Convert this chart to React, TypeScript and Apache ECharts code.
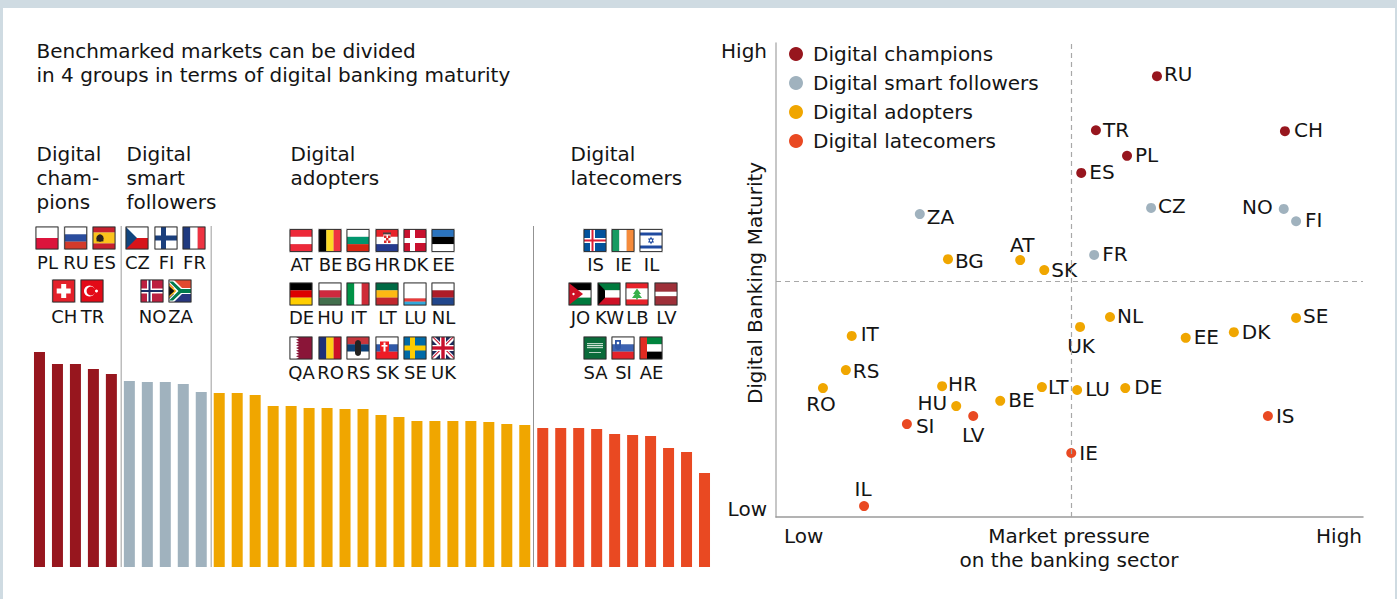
import React, { useEffect, useRef } from "react";
import * as echarts from "echarts";

const FONT = "DejaVu Sans";
const INK = "#141414";
const RED = "#97161e";
const GREY = "#a0b2be";
const AMBER = "#f0a600";
const ORANGE = "#e94922";

const barCodes = ["PL","RU","ES","CH","TR","CZ","FI","FR","NO","ZA","AT","BE","BG","HR","DK","EE","DE","HU","IT","LT","LU","NL","QA","RO","RS","SK","SE","UK","IS","IE","IL","JO","KW","LB","LV","SA","SI","AE"];
const championBars = [215,203,203,198,193];
const followerBars = [186,185,185,183,175];
const adopterBars = [174,174,172,161,161,159,159,158,158,152,150,146,146,146,146,145,143,142];
const latecomerBars = [139,139,139,138,133,132,131,119,115,94];

const champions = [["RU",64.9,93.0],["TR",54.5,81.6],["CH",86.7,81.4],["PL",59.8,76.2],["ES",52.0,72.6]];
const followers = [["CZ",63.9,65.2],["NO",86.5,65.0],["FI",88.6,62.4],["FR",54.2,55.3],["ZA",24.5,63.9]];
const adopters = [["BG",29.3,54.4],["AT",41.6,54.2],["SK",45.7,52.1],["IT",12.9,38.2],["RS",11.9,31.0],["RO",8.0,27.2],["HR",28.3,27.6],["HU",30.7,23.4],["BE",38.2,24.5],["LT",45.3,27.4],["UK",51.8,40.1],["NL",56.9,42.2],["EE",69.8,37.8],["DK",78.0,39.0],["SE",88.6,42.0],["LU",51.3,26.8],["DE",59.5,27.2]];
const latecomers = [["SI",22.3,19.6],["LV",33.6,21.3],["IL",15.0,2.3],["IS",83.8,21.3],["IE",50.3,13.5]];

const labelPlacement: Record<string, [string, number, number]> = {
  RU:["left",7,-2.5],TR:["left",7,-0.5],CH:["left",9,-1.5],PL:["left",8,-0.5],ES:["left",8,-0.5],
  CZ:["left",7,-1.5],NO:["right",-11,-1.5],FI:["left",9,-1.5],FR:["left",8,-0.5],ZA:["left",7,2.5],
  BG:["left",7,1.5],AT:["center",2,-15.5],SK:["left",7,-0.5],IT:["left",9,-1.5],RS:["left",7,0.5],RO:["center",-2,15.5],
  HR:["left",6,-2.5],HU:["right",-9,-3.5],SI:["left",9,2],LV:["center",0,18.5],BE:["left",8,-0.5],LT:["left",6,-0.5],
  IL:["center",-1,-17.5],UK:["center",1,19.5],NL:["left",7,-0.5],EE:["left",8,-0.5],DK:["left",8,-0.5],SE:["left",7,-1.5],
  LU:["left",8,-0.5],DE:["left",9,-1.5],IS:["left",8,-0.5],IE:["left",8,-0.5],
};

const R = (x: number, y: number, w: number, h: number, fill: string) => ({ type: "rect", shape: { x, y, width: w, height: h }, style: { fill } });
const P = (points: number[][], fill: string) => ({ type: "polygon", shape: { points }, style: { fill } });
const C = (cx: number, cy: number, r: number, fill: string) => ({ type: "circle", shape: { cx, cy, r }, style: { fill } });
const SZ = 22;
const hs = (cols: string[], w?: number[]) => {
  const ws = w || cols.map(() => 1); const tot = ws.reduce((a, b) => a + b, 0); let y = 0;
  return cols.map((c, i) => { const e = R(0, y, SZ, (ws[i] / tot) * SZ, c); y += (ws[i] / tot) * SZ; return e; });
};
const vs = (cols: string[], w?: number[]) => {
  const ws = w || cols.map(() => 1); const tot = ws.reduce((a, b) => a + b, 0); let x = 0;
  return cols.map((c, i) => { const e = R(x, 0, (ws[i] / tot) * SZ, SZ, c); x += (ws[i] / tot) * SZ; return e; });
};
const nordic = (bg: string, cross: string, inner?: string) => {
  const out: any[] = [R(0, 0, SZ, SZ, bg), R(6, 0, 5, SZ, cross), R(0, 8.5, SZ, 5, cross)];
  if (inner) out.push(R(7.5, 0, 2, SZ, inner), R(0, 10, SZ, 2, inner));
  return out;
};
const flagArt: Record<string, () => any[]> = {
  PL: () => hs(["#ffffff", "#dc143c"]),
  RU: () => hs(["#ffffff", "#2a4d9e", "#d33a2a"]),
  ES: () => [...hs(["#c8202d", "#fbc31c", "#c8202d"], [1, 2, 1]), C(7, 11, 3.6, "#2b2320"), R(3.6, 11, 6.8, 3.4, "#2b2320")],
  CH: () => [R(0, 0, SZ, SZ, "#e4202a"), R(8.5, 4, 5, 14, "#fff"), R(4, 8.5, 14, 5, "#fff")],
  TR: () => [R(0, 0, SZ, SZ, "#e30a17"), C(8.5, 11, 5.5, "#fff"), C(10, 11, 4.4, "#e30a17"), C(15.5, 11, 1.5, "#fff")],
  CZ: () => [...hs(["#ffffff", "#d7141a"]), P([[0, 0], [11, 11], [0, 22]], "#11457e")],
  FI: () => nordic("#ffffff", "#1b3f7c"),
  FR: () => vs(["#1f3a7f", "#ffffff", "#ee3342"]),
  NO: () => nordic("#bc2040", "#ffffff", "#1d2f66"),
  ZA: () => [...hs(["#e2492f", "#ffffff", "#27367f"], [8, 6, 8]), P([[0, 0], [5, 0], [13, 8], [22, 8], [22, 14], [13, 14], [5, 22], [0, 22], [0, 19], [8, 11], [0, 3]], "#ffffff"), P([[0, 1.5], [4, 1.5], [12, 9], [22, 9], [22, 13], [12, 13], [4, 20.5], [0, 20.5], [9.5, 11]], "#007a4d"), P([[0, 4], [7.5, 11], [0, 18]], "#fbb81c"), P([[0, 6], [5.5, 11], [0, 16]], "#111")],
  AT: () => hs(["#ed2939", "#ffffff", "#ed2939"]),
  BE: () => vs(["#000000", "#fdda24", "#ef3340"]),
  BG: () => hs(["#ffffff", "#00966e", "#d62612"]),
  HR: () => [...hs(["#e8232a", "#ffffff", "#253a8e"]), R(7, 3, 8, 2, "#444"), R(7.5, 5, 7, 9, "#fff"), R(8, 6, 2.5, 2.5, "#d92a2a"), R(12, 6, 2.5, 2.5, "#d92a2a"), R(10, 8.5, 2.5, 2.5, "#d92a2a"), R(8, 11, 2.5, 2.5, "#d92a2a"), R(12, 11, 2.5, 2.5, "#d92a2a")],
  DK: () => nordic("#c8102e", "#ffffff"),
  EE: () => hs(["#2b74bf", "#000000", "#ffffff"]),
  DE: () => hs(["#000000", "#dd0000", "#ffce00"]),
  HU: () => hs(["#ffffff", "#cd2a3e", "#436f4d"]),
  IT: () => vs(["#009246", "#ffffff", "#ce2b37"]),
  LT: () => hs(["#006a44", "#fdb913", "#c1272d"]),
  LU: () => hs(["#ffffff", "#ea3b3b", "#33a9dc"], [7, 1.5, 1.5]),
  NL: () => hs(["#ffffff", "#ae1c28", "#21468b"]),
  QA: () => { const pts: number[][] = [[22, 0], [6, 0]]; for (let i = 0; i < 8; i++) { pts.push([9, i * 2.75 + 1.4], [6, (i + 1) * 2.75]); } pts.push([22, 22]); return [R(0, 0, SZ, SZ, "#fff"), P(pts, "#8a1538")]; },
  RO: () => vs(["#1c2f78", "#fcd116", "#ce1126"]),
  RS: () => [...hs(["#c6363c", "#0c4076", "#ffffff"]), C(11, 6, 3, "#222"), R(8, 6, 6, 10, "#222"), C(11, 16, 3, "#222")],
  SK: () => [...hs(["#ffffff", "#2f59a8", "#ee1c25"]), R(4, 4.5, 9, 8, "#ee1c25"), C(8.5, 12.5, 4.5, "#ee1c25"), R(7.5, 5.5, 2, 9, "#fff"), R(5.5, 8, 6, 1.6, "#fff")],
  SE: () => nordic("#006aa7", "#fecc00"),
  UK: () => [R(0, 0, SZ, SZ, "#1d2a5b"), P([[0, 0], [3, 0], [22, 19], [22, 22], [19, 22], [0, 3]], "#fff"), P([[22, 0], [22, 3], [3, 22], [0, 22], [0, 19], [19, 0]], "#fff"), P([[0, 0], [1.5, 0], [22, 20.5], [22, 22]], "#c8102e"), P([[22, 0], [20.5, 0], [0, 20.5], [0, 22]], "#c8102e"), R(8, 0, 6, SZ, "#fff"), R(0, 8, SZ, 6, "#fff"), R(9.3, 0, 3.4, SZ, "#c8102e"), R(0, 9.3, SZ, 3.4, "#c8102e")],
  IS: () => nordic("#02529c", "#ffffff", "#dc1e35"),
  IE: () => vs(["#169b62", "#ffffff", "#f58b3c"]),
  IL: () => [R(0, 0, SZ, SZ, "#fff"), R(0, 3, SZ, 3, "#1f4aa0"), R(0, 16, SZ, 3, "#1f4aa0"), P([[11, 7], [14, 13], [8, 13]], "#1f4aa0"), P([[11, 15], [14, 9], [8, 9]], "#1f4aa0"), C(11, 11, 1.2, "#fff")],
  JO: () => [...hs(["#000000", "#ffffff", "#007a3d"]), P([[0, 0], [14, 11], [0, 22]], "#ce1126"), C(4.5, 11, 1.2, "#fff")],
  KW: () => [...hs(["#007a3d", "#ffffff", "#ce1126"]), P([[0, 0], [7, 7.3], [7, 14.7], [0, 22]], "#000")],
  LB: () => [...hs(["#e8232a", "#ffffff", "#e8232a"], [1, 2, 1]), P([[11, 5.5], [15, 11], [13, 11], [16, 15], [6, 15], [9, 11], [7, 11]], "#38b04a"), R(10.2, 15, 1.6, 1.6, "#38b04a")],
  LV: () => hs(["#9e3039", "#ffffff", "#9e3039"], [2, 1, 2]),
  SA: () => [R(0, 0, SZ, SZ, "#0a6b3a"), R(3, 6, 16, 1.2, "#b9d6c4"), R(3, 8, 16, 1.2, "#d5e6da"), R(3, 10, 16, 1.2, "#b9d6c4"), R(5, 15, 12, 0.8, "#e6efe8")],
  SI: () => [...hs(["#ffffff", "#3d63b3", "#e4232a"]), R(3, 3, 6, 7, "#2f55a5"), C(6, 10, 3, "#2f55a5"), C(6, 6, 1.3, "#fff")],
  AE: () => [...hs(["#00843d", "#ffffff", "#000000"]), R(0, 0, 7, SZ, "#e32b22")],
};

const flagRows: { codes: string[]; xs: number[]; y: number; labelY: number }[] = [
  { codes: ["PL","RU","ES"], xs: [36,64.7,93], y: 227, labelY: 262 },
  { codes: ["CH","TR"], xs: [52.7,81], y: 280, labelY: 316 },
  { codes: ["CZ","FI","FR"], xs: [126,155,183], y: 227, labelY: 262 },
  { codes: ["NO","ZA"], xs: [141,169], y: 280, labelY: 316 },
  { codes: ["AT","BE","BG","HR","DK","EE"], xs: [290,319,347,376,404,432], y: 229.5, labelY: 264 },
  { codes: ["DE","HU","IT","LT","LU","NL"], xs: [290,319,347,376,404,432], y: 283, labelY: 317 },
  { codes: ["QA","RO","RS","SK","SE","UK"], xs: [290,319,347,376,404,432], y: 337, labelY: 372 },
  { codes: ["IS","IE","IL"], xs: [584,612,640], y: 229.5, labelY: 264 },
  { codes: ["JO","KW","LB","LV"], xs: [569,598,626,655], y: 283, labelY: 317 },
  { codes: ["SA","SI","AE"], xs: [584,612,640], y: 337, labelY: 372 },
];

const titleLines = ["Benchmarked markets can be divided", "in 4 groups in terms of digital banking maturity"];
const groupHeads: [number, string[]][] = [
  [37, ["Digital", "cham-", "pions"]],
  [127, ["Digital", "smart", "followers"]],
  [291, ["Digital", "adopters"]],
  [571, ["Digital", "latecomers"]],
];

const FS = 20;
const BLOCK_FS = 20;
const FLAG_FS = 18;
const T = (text: string, x: number, y: number, align = "left", extra: any = {}, fontSize = FS) => ({
  type: "text", x, y, silent: true, ...extra,
  style: { text, fontFamily: FONT, fontSize, fill: INK, align, verticalAlign: "middle" },
});

function buildGraphic() {
  const els: any[] = [
    R(0, 0, 1397, 8, "#cfdbe2"), R(0, 0, 3, 599, "#cfdbe2"), R(1395, 0, 2, 599, "#cfdbe2"),
    R(120.5, 226, 1.5, 341, "#bdbdbd"), R(210.5, 226, 1.5, 341, "#bdbdbd"), R(533, 226, 1, 341, "#939393"),
  ];
  titleLines.forEach((t, i) => els.push(T(t, 36.5, 51 + i * 24, "left", {}, BLOCK_FS)));
  groupHeads.forEach(([x, lines]) => lines.forEach((l, i) => els.push(T(l, x - 0.5, 154 + i * 24, "left", {}, BLOCK_FS))));
  flagRows.forEach((row) => row.codes.forEach((code, i) => {
    const x = row.xs[i];
    els.push({
      type: "group", x, y: row.y, silent: true,
      children: [
        R(-1, -1, SZ + 2, SZ + 2, "#c6c6c6"),
        ...flagArt[code](),
        { type: "rect", shape: { x: 0, y: 0, width: SZ, height: SZ }, style: { fill: "none", stroke: "#2c2c2c", lineWidth: 0.9 } },
      ],
    });
    els.push(T(code, x + 11.5, row.labelY, "center", {}, FLAG_FS));
  }));
  els.push(T("High", 767, 51, "right"), T("Low", 767, 509, "right"));
  els.push(T("Digital Banking Maturity", 755, 283, "center", { rotation: Math.PI / 2 }));
  els.push(T("Low", 784, 536), T("Market pressure", 1069, 536, "center", {}, BLOCK_FS), T("on the banking sector", 1069, 560, "center", {}, BLOCK_FS), T("High", 1362, 536, "right"));
  return els;
}

const scatter = (name: string, color: string, rows: any[], marks?: any) => ({
  name, type: "scatter", xAxisIndex: 1, yAxisIndex: 1, symbol: "circle", symbolSize: 10,
  itemStyle: { color, opacity: 1 },
  data: rows.map(([code, x, y]) => {
    const [align, dx, dy] = labelPlacement[code];
    return {
      value: [x, y],
      label: { show: true, formatter: code, position: "inside", align, verticalAlign: "middle", offset: [dx, dy], fontFamily: FONT, fontSize: FS, color: INK },
    };
  }),
  ...(marks ? { markLine: marks } : {}),
});

export default function App() {
  const ref = useRef<HTMLDivElement>(null);
  useEffect(() => {
    document.body.style.margin = "0";
    const chart = echarts.init(ref.current!, undefined, { renderer: "svg" });
    const barColors = [...championBars.map(() => RED), ...followerBars.map(() => GREY), ...adopterBars.map(() => AMBER), ...latecomerBars.map(() => ORANGE)];
    const barVals = [...championBars, ...followerBars, ...adopterBars, ...latecomerBars];
    chart.setOption({
      animation: false,
      backgroundColor: "#ffffff",
      grid: [
        { left: 30.5, top: 340, width: 683, height: 227 },
        { left: 776, top: 43, width: 587, height: 474 },
      ],
      xAxis: [
        { gridIndex: 0, type: "category", data: barCodes, show: false },
        { gridIndex: 1, type: "value", min: 0, max: 100, splitLine: { show: false }, axisTick: { show: false }, axisLabel: { show: false }, axisLine: { show: true, onZero: false, lineStyle: { color: "#9a9a9a", width: 1.5 } } },
      ],
      yAxis: [
        { gridIndex: 0, type: "value", min: 0, max: 227, show: false },
        { gridIndex: 1, type: "value", min: 0, max: 100, splitLine: { show: false }, axisTick: { show: false }, axisLabel: { show: false }, axisLine: { show: true, onZero: false, lineStyle: { color: "#b5b5b5", width: 1.5 } } },
      ],
      legend: {
        orient: "vertical", left: 784, top: 39, itemWidth: 14, itemHeight: 14, itemGap: 9, icon: "circle",
        selectedMode: false,
        textStyle: { fontFamily: FONT, fontSize: FS, color: INK, padding: [0, 0, 0, 5] },
        data: ["Digital champions", "Digital smart followers", "Digital adopters", "Digital latecomers"],
      },
      series: [
        {
          type: "bar", name: "Digital maturity", xAxisIndex: 0, yAxisIndex: 0, barWidth: 11,
          data: barVals.map((value, i) => ({ value, itemStyle: { color: barColors[i] } })),
        },
        scatter("Digital champions", RED, champions, {
          silent: true, symbol: "none", label: { show: false },
          lineStyle: { type: [5, 4], color: "#a8a8a8", width: 1.2 },
          data: [{ xAxis: 50.3 }, { yAxis: 49.7 }],
        }),
        scatter("Digital smart followers", GREY, followers),
        scatter("Digital adopters", AMBER, adopters),
        scatter("Digital latecomers", ORANGE, latecomers),
      ],
      graphic: { elements: buildGraphic() },
    });
    return () => chart.dispose();
  }, []);
  return <div ref={ref} style={{ position: "absolute", left: 0, top: 0, width: 1397, height: 599 }} />;
}
